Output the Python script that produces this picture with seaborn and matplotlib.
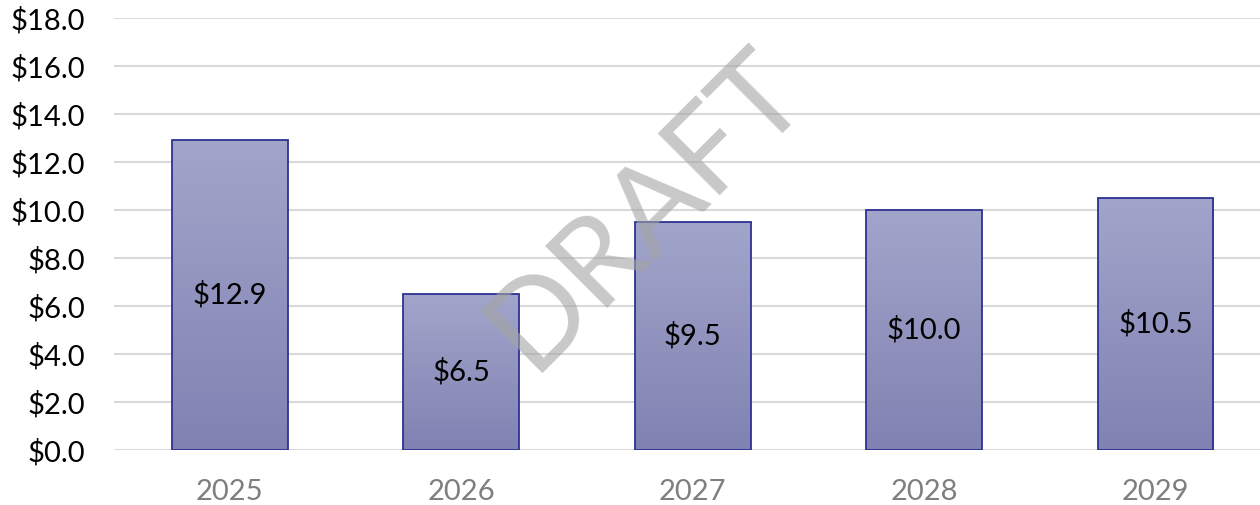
import numpy as np
import pandas as pd
import matplotlib
matplotlib.use('Agg')
import matplotlib.pyplot as plt
import seaborn as sns
from matplotlib.colors import LinearSegmentedColormap

years = ['2025', '2026', '2027', '2028', '2029']
values = [12.9, 6.5, 9.5, 10.0, 10.5]
y_ticks = [0, 2, 4, 6, 8, 10, 12, 14, 16, 18]

df = pd.DataFrame({'year': years, 'value': values})

sns.set_style('white')
plt.rcParams['font.family'] = ['Lato', 'DejaVu Sans']

fig = plt.figure(figsize=(12.6, 5.05), dpi=100)
ax = fig.add_axes([0.0905, 0.109, 0.9095, 0.8554])

sns.barplot(data=df, x='year', y='value', ax=ax, width=0.5,
            color='#9799C2', edgecolor='#2E3192', linewidth=1.3, zorder=2)

# gradient fill, lighter at top
grad = LinearSegmentedColormap.from_list('bars', ['#8082B2', '#A2A5CA'])
for bar in ax.patches:
    x0, y0 = bar.get_x(), bar.get_y()
    w, h = bar.get_width(), bar.get_height()
    img = ax.imshow(np.linspace(0, 1, 100).reshape(-1, 1), cmap=grad,
                    origin='lower', aspect='auto',
                    extent=[x0, x0 + w, y0, y0 + h], zorder=2.5)
    img.set_clip_path(bar)
    bar.set_facecolor('none')
    bar.set_zorder(3)

for i, v in enumerate(values):
    ax.text(i, v / 2, f'${v:.1f}', ha='center', va='center',
            fontsize=21, color='black', zorder=4)

ax.set_xlim(-0.5, 4.451)
ax.set_ylim(0, 18)
ax.set_yticks(y_ticks)
ax.set_yticklabels([f'${t:.1f}' for t in y_ticks], fontsize=21, color='black')
ax.tick_params(axis='x', labelsize=21, labelcolor='#7F7F7F', length=0, pad=21)
ax.tick_params(axis='y', length=0, pad=21)
ax.set_xlabel('')
ax.set_ylabel('')
ax.yaxis.grid(True, color='#D9D9D9', linewidth=1.5, zorder=0)
ax.set_axisbelow(True)
for s in ax.spines.values():
    s.set_visible(False)

# watermark
fig.text(0.513, 0.585, 'DRAFT', rotation=45, ha='center', va='center',
         fontsize=88, fontweight='normal', color='#A4A4A4', alpha=0.6,
         zorder=10)

fig.savefig('out.png', dpi=100)
